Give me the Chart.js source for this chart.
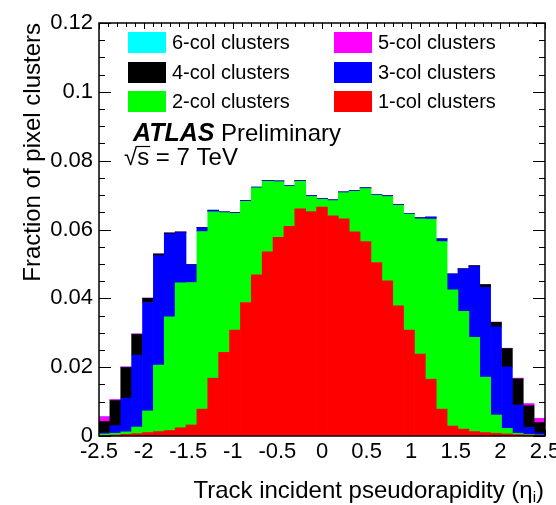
<!DOCTYPE html>
<html>
<head>
<meta charset="utf-8">
<script src="https://cdn.jsdelivr.net/npm/chart.js@4.4.1/dist/chart.umd.min.js"></script>
<style>
  html, body { margin: 0; padding: 0; background: #fff; }
</style>
</head>
<body>
<canvas id="chart" width="556" height="505"></canvas>
<script>
// 41 eta bins between -2.5 and 2.5 (bin centres)
const etaBins = [-2.439, -2.317, -2.195, -2.073, -1.951, -1.829, -1.707, -1.585, -1.463, -1.341,
                 -1.220, -1.098, -0.976, -0.854, -0.732, -0.610, -0.488, -0.366, -0.244, -0.122,
                 0,
                 0.122, 0.244, 0.366, 0.488, 0.610, 0.732, 0.854, 0.976, 1.098, 1.220,
                 1.341, 1.463, 1.585, 1.707, 1.829, 1.951, 2.073, 2.195, 2.317, 2.439];

const col1 = [0.0002, 0.0003, 0.0005, 0.0007, 0.0010, 0.0013, 0.0016, 0.0024, 0.0032, 0.0078,
              0.0168, 0.0243, 0.0308, 0.0388, 0.0468, 0.0535, 0.0577, 0.0609, 0.0660, 0.0652,
              0.0665,
              0.0640, 0.0631, 0.0593, 0.0565, 0.0504, 0.0451, 0.0378, 0.0308, 0.0238, 0.0165,
              0.0078, 0.0029, 0.0020, 0.0013, 0.0010, 0.0008, 0.0006, 0.0004, 0.0003, 0.0002];
const col2 = [0.0004, 0.0005, 0.0007, 0.0019, 0.0063, 0.0193, 0.0330, 0.0421, 0.0414, 0.0516,
              0.0483, 0.0406, 0.0339, 0.0294, 0.0253, 0.0205, 0.0162, 0.0117, 0.0080, 0.0044,
              0.0023,
              0.0044, 0.0076, 0.0118, 0.0154, 0.0196, 0.0245, 0.0292, 0.0337, 0.0393, 0.0465,
              0.0487, 0.0396, 0.0342, 0.0274, 0.0161, 0.0053, 0.0016, 0.0004, 0.0002, 0.0001];
const col3 = [0.0003, 0.0022, 0.0098, 0.0209, 0.0315, 0.0318, 0.0241, 0.0146, 0.0051, 0.0011,
              0.0005, 0.0002, 0.0002, 0.0002, 0.0002, 0.0002, 0.0002, 0.0002, 0.0002, 0.0002,
              0.0002,
              0.0002, 0.0002, 0.0002, 0.0002, 0.0002, 0.0002, 0.0002, 0.0002, 0.0003, 0.0006,
              0.0007, 0.0045, 0.0123, 0.0205, 0.0261, 0.0256, 0.0179, 0.0082, 0.0020, 0.0006];
const col4 = [0.0033, 0.0073, 0.0089, 0.0060, 0.0012, 0.0005, 0.0003, 0.0002, 0.0001, 0.0001,
              0, 0, 0, 0, 0, 0, 0, 0, 0, 0,
              0,
              0, 0, 0, 0, 0, 0, 0, 0, 0, 0,
              0.0001, 0.0001, 0.0001, 0.0003, 0.0008, 0.0013, 0.0053, 0.0076, 0.0063, 0.0030];
const col5 = [0.0014, 0.0003, 0.0002, 0.0002, 0.0001, 0, 0, 0, 0, 0,
              0, 0, 0, 0, 0, 0, 0, 0, 0, 0,
              0,
              0, 0, 0, 0, 0, 0, 0, 0, 0, 0,
              0, 0, 0, 0, 0, 0.0001, 0.0001, 0.0002, 0.0006, 0.0012];
const col6 = [0.0001, 0, 0, 0, 0, 0, 0, 0, 0, 0,
              0, 0, 0, 0, 0, 0, 0, 0, 0, 0,
              0,
              0, 0, 0, 0, 0, 0, 0, 0, 0, 0,
              0, 0, 0, 0, 0, 0, 0, 0, 0, 0.0001];

const seriesLabels = ['1-col clusters', '2-col clusters', '3-col clusters', '4-col clusters', '5-col clusters', '6-col clusters'];
const seriesColors = ['#ff0000', '#00ff00', '#0000ff', '#000000', '#ff00ff', '#00ffff'];
// legend grid, read row by row (left column, right column)
const legendOrder = [5, 4, 3, 2, 1, 0];

const yMax = 0.12;
const yStep = 0.02;
const xMin = -2.5, xMax = 2.5, xStep = 0.5;

const FONT = '"Liberation Sans", Arial, Helvetica, sans-serif';

// ROOT-style frame: ticks pointing inward on all four sides
const framePlugin = {
    id: 'frame',
    beforeDatasetsDraw(chart) {
        const { ctx, chartArea: a, scales: { x, y } } = chart;
        ctx.save();
        ctx.strokeStyle = '#000';
        ctx.lineWidth = 1;
        ctx.beginPath();
        for (let i = 0; i <= 24; i++) {
            const py = Math.round(y.getPixelForValue(i * 0.005)) + 0.5;
            const len = i % 4 === 0 ? 12 : 6;
            ctx.moveTo(a.left, py); ctx.lineTo(a.left + len, py);
            ctx.moveTo(a.right, py); ctx.lineTo(a.right - len, py);
        }
        for (let i = 0; i <= 50; i++) {
            const px = Math.round(x.getPixelForValue(xMin + i * 0.1)) + 0.5;
            const len = i % 5 === 0 ? 6 : 4;
            ctx.moveTo(px, a.top); ctx.lineTo(px, a.top + len);
            ctx.moveTo(px, a.bottom); ctx.lineTo(px, a.bottom - len);
        }
        ctx.stroke();
        ctx.restore();
    },
    afterDatasetsDraw(chart) {
        const { ctx, chartArea: a } = chart;
        ctx.save();
        ctx.strokeStyle = '#000';
        ctx.lineWidth = 1.5;
        ctx.strokeRect(a.left, a.top, a.right - a.left, a.bottom - a.top);
        ctx.restore();
    },
    afterDraw(chart) {
        const { ctx } = chart;
        ctx.save();
        ctx.fillStyle = '#000';

        // legend, two columns
        ctx.font = '20px ' + FONT;
        ctx.textBaseline = 'middle';
        const colX = [128, 334];
        const rowY = [32, 62, 91];
        legendOrder.forEach((di, k) => {
            const ds = chart.data.datasets[di];
            const lx = colX[k % 2], ly = rowY[Math.floor(k / 2)];
            ctx.fillStyle = ds.backgroundColor;
            ctx.fillRect(lx, ly, 38, 21);
            ctx.fillStyle = '#000';
            ctx.fillText(ds.label, lx + 44, ly + 11);
        });

        // ATLAS label
        ctx.textBaseline = 'alphabetic';
        ctx.font = 'italic bold 25px ' + FONT;
        ctx.fillText('ATLAS', 133, 141);
        ctx.font = '24px ' + FONT;
        ctx.fillText('Preliminary', 221, 141);
        ctx.fillText('\u221As = 7 TeV', 124, 165);
        const rootW = ctx.measureText('\u221A').width;
        const sW = ctx.measureText('s').width;
        ctx.lineWidth = 1.2;
        ctx.beginPath();
        ctx.moveTo(124 + rootW - 1, 146.5);
        ctx.lineTo(124 + rootW + sW + 1, 146.5);
        ctx.stroke();

        // x axis title with subscript
        const main = 'Track incident pseudorapidity (\u03B7';
        ctx.font = '24px ' + FONT;
        const wMain = ctx.measureText(main).width;
        ctx.font = '15px ' + FONT;
        const wSub = ctx.measureText('i').width;
        ctx.font = '24px ' + FONT;
        const wEnd = ctx.measureText(')').width;
        let tx = 544 - (wMain + wSub + wEnd);
        ctx.fillText(main, tx, 498);
        tx += wMain;
        ctx.font = '15px ' + FONT;
        ctx.fillText('i', tx, 502);
        tx += wSub;
        ctx.font = '24px ' + FONT;
        ctx.fillText(')', tx, 498);
        ctx.restore();
    }
};

const seriesData = [col1, col2, col3, col4, col5, col6];

new Chart(document.getElementById('chart'), {
    type: 'bar',
    data: {
        labels: etaBins,
        datasets: seriesData.map((d, i) => ({
            label: seriesLabels[i],
            data: d,
            backgroundColor: seriesColors[i],
            borderWidth: 0,
            barPercentage: 1,
            categoryPercentage: 1,
            xAxisID: 'xb',
            yAxisID: 'y'
        }))
    },
    options: {
        responsive: false,
        animation: false,
        devicePixelRatio: 1,
        layout: { padding: { left: 0, right: 11, top: 23, bottom: 0 } },
        plugins: { legend: { display: false }, tooltip: { enabled: false } },
        scales: {
            xb: { type: 'category', display: false, stacked: true },
            x: {
                type: 'linear',
                position: 'bottom',
                min: xMin,
                max: xMax,
                offset: false,
                grid: { display: false, drawTicks: false, offset: false },
                border: { display: false },
                ticks: {
                    stepSize: xStep,
                    padding: 3,
                    color: '#000',
                    maxRotation: 0,
                    autoSkip: false,
                    font: { family: FONT, size: 22 },
                    callback: v => String(Number(v.toFixed(2)))
                },
                afterFit: s => { s.height = 69; s.paddingLeft = 0; s.paddingRight = 0; }
            },
            y: {
                stacked: true,
                min: 0,
                max: yMax,
                grid: { display: false, drawTicks: false },
                border: { display: false },
                ticks: {
                    stepSize: yStep,
                    padding: 6,
                    color: '#000',
                    font: { family: FONT, size: 22 },
                    callback: v => String(Number(v.toFixed(3)))
                },
                title: {
                    display: true,
                    text: 'Fraction of pixel clusters',
                    align: 'end',
                    color: '#000',
                    font: { family: FONT, size: 24, weight: 'normal' },
                    padding: { top: 19, bottom: 0 }
                },
                afterFit: s => { s.width = 99; }
            }
        }
    },
    plugins: [framePlugin]
});
</script>
</body>
</html>
